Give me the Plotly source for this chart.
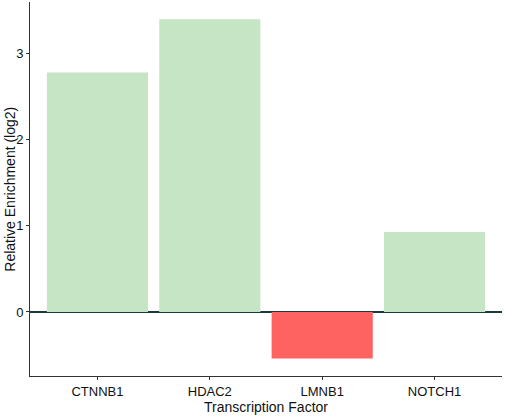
import plotly.graph_objects as go

# data
factors = ["CTNNB1", "HDAC2", "LMNB1", "NOTCH1"]
enrichment = [2.78, 3.40, -0.54, 0.93]

colors = ["#C5E5C5" if v >= 0 else "#FF6361" for v in enrichment]

fig = go.Figure()
fig.add_trace(go.Bar(x=factors, y=enrichment, marker_color=colors,
                     marker_line_width=0, width=0.9))

fig.update_layout(
    width=505, height=419,
    margin=dict(l=30, r=3, t=2, b=43),
    plot_bgcolor="white", paper_bgcolor="white",
    font=dict(family="Liberation Sans, Arial", size=13, color="#111111"),
    showlegend=False,
    xaxis=dict(
        automargin=False,
        range=[-0.6, 3.6], showline=True, linecolor="#333333", linewidth=1,
        ticks="outside", ticklen=3, tickcolor="#333333", showgrid=False,
    ),
    yaxis=dict(
        automargin=False,
        range=[-0.744, 3.6], tickvals=[0, 1, 2, 3], showline=True,
        linecolor="#333333", linewidth=1, ticks="outside", ticklen=3,
        tickcolor="#333333", showgrid=False,
        zeroline=True, zerolinecolor="#1B3B3B", zerolinewidth=2,
    ),
)

# axis titles
fig.add_annotation(text="Transcription Factor", xref="paper", yref="paper",
                   x=0.5, y=-0.082, yanchor="middle", showarrow=False,
                   font=dict(size=14))
fig.add_annotation(text="Relative Enrichment (log2)", xref="paper", yref="paper",
                   x=-0.043, y=0.5, xanchor="center", textangle=-90,
                   showarrow=False, font=dict(size=14))

# page body has a default margin; drop it so the figure sits at the corner
fig.write_html("out.html", config={"displayModeBar": False},
               post_script="document.body.style.margin='0';")
